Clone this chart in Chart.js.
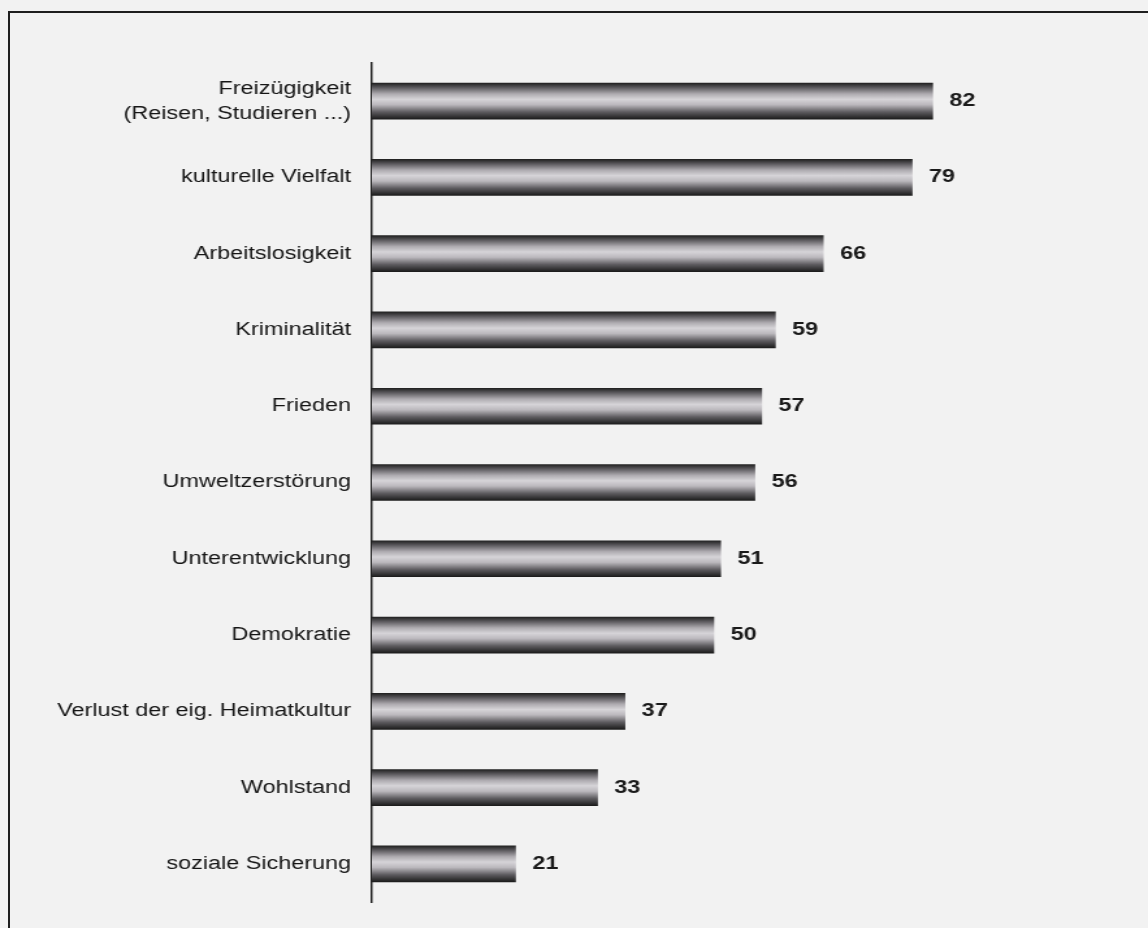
<!DOCTYPE html>
<html>
<head>
<meta charset="utf-8">
<script src="https://cdn.jsdelivr.net/npm/chart.js@4.4.1/dist/chart.umd.min.js"></script>
<style>
  html, body { margin: 0; padding: 0; background: #f2f2f2; }
  #wrap { position: relative; width: 1148px; height: 928px; }
  #frame { position: absolute; left: 8px; top: 11px; right: 0; bottom: 0;
           border-top: 2px solid #1e1e1e; border-left: 2px solid #1e1e1e; }
  /* the original print is stretched sideways, so the canvas is drawn narrower and widened */
  #chart { position: absolute; left: 0; top: 0; width: 1148px; height: 928px; }
</style>
</head>
<body>
<div id="wrap">
  <div id="frame"></div>
  <canvas id="chart" width="883" height="928" style="width:1148px;height:928px"></canvas>
</div>
<script>
const categories = [
    ['Freizügigkeit', '(Reisen, Studieren ...)'],
    'kulturelle Vielfalt',
    'Arbeitslosigkeit',
    'Kriminalität',
    'Frieden',
    'Umweltzerstörung',
    'Unterentwicklung',
    'Demokratie',
    'Verlust der eig. Heimatkultur',
    'Wohlstand',
    'soziale Sicherung'
];
const values = [82, 79, 66, 59, 57, 56, 51, 50, 37, 33, 21];

const FONT = '"Liberation Sans", Arial, sans-serif';

// cylinder-like shading, one gradient per bar
const barShading = {
    id: 'barShading',
    beforeDatasetsDraw(chart) {
        const ctx = chart.ctx;
        chart.getDatasetMeta(0).data.forEach(function(bar) {
            const top = bar.y - bar.height / 2;
            const g = ctx.createLinearGradient(0, top, 0, top + bar.height);
            g.addColorStop(0, '#222222');
            g.addColorStop(0.12, '#5a585c');
            g.addColorStop(0.3, '#aeabb0');
            g.addColorStop(0.45, '#d6d4d8');
            g.addColorStop(0.6, '#bbb8bd');
            g.addColorStop(0.8, '#5e5c60');
            g.addColorStop(1, '#1c1c1c');
            bar.options = Object.assign({}, bar.options, { backgroundColor: g });
        });
    }
};

const valueLabels = {
    id: 'valueLabels',
    afterDatasetsDraw(chart) {
        const ctx = chart.ctx;
        ctx.save();
        ctx.font = 'bold 18px ' + FONT;
        ctx.fillStyle = '#1a1a1a';
        ctx.textBaseline = 'middle';
        chart.getDatasetMeta(0).data.forEach(function(bar, i) {
            ctx.fillText(values[i], bar.x + 13, bar.y);
        });
        ctx.restore();
    }
};

new Chart(document.getElementById('chart'), {
    type: 'bar',
    data: {
        labels: categories,
        datasets: [{
            data: values,
            backgroundColor: '#888',
            barThickness: 36,
            borderWidth: 0
        }]
    },
    options: {
        indexAxis: 'y',
        responsive: false,
        animation: false,
        layout: { padding: { top: 63, bottom: 26, right: 71, left: 0 } },
        plugins: {
            legend: { display: false },
            tooltip: { enabled: false }
        },
        scales: {
            x: {
                display: false,
                min: 0,
                max: 100
            },
            y: {
                afterFit: function(scale) {
                    scale.width = 286;
                    scale.paddingTop = 0;
                    scale.paddingBottom = 0;
                },
                grid: { display: false },
                border: { display: true, color: '#1e1e1e', width: 1.5 },
                ticks: {
                    color: '#151515',
                    padding: 8,
                    font: { family: FONT, size: 18, lineHeight: 1.4 }
                }
            }
        }
    },
    plugins: [barShading, valueLabels]
});
</script>
</body>
</html>
